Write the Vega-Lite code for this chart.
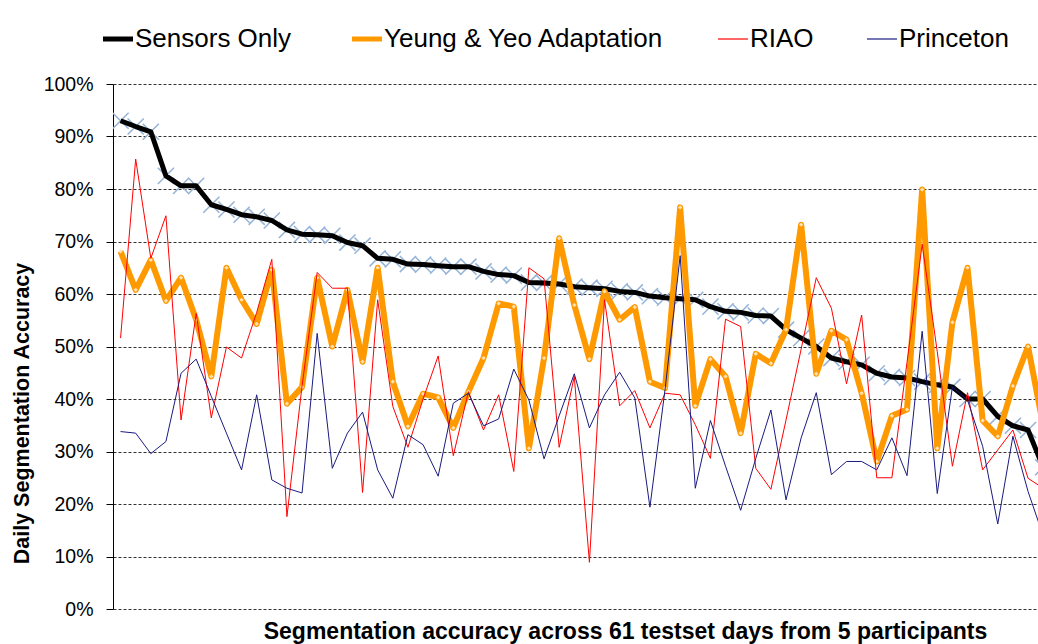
{
  "$schema": "https://vega.github.io/schema/vega-lite/v6.json",
  "width": 925,
  "height": 525,
  "autosize": {"type": "none"},
  "padding": {"left": 113, "top": 84, "right": 0, "bottom": 35},
  "background": "white",
  "config": {"view": {"stroke": null}, "font": "Liberation Sans"},
  "data": {"values": [
    {"day":0,"sensors":93.0,"yeung":68.1,"riao":51.6,"princeton":33.8},
    {"day":1,"sensors":91.9,"yeung":60.8,"riao":85.7,"princeton":33.5},
    {"day":2,"sensors":90.9,"yeung":66.5,"riao":66.8,"princeton":29.6},
    {"day":3,"sensors":82.5,"yeung":58.7,"riao":74.9,"princeton":31.9},
    {"day":4,"sensors":80.6,"yeung":63.1,"riao":36.0,"princeton":44.9},
    {"day":5,"sensors":80.6,"yeung":55.1,"riao":56.3,"princeton":47.6},
    {"day":6,"sensors":77.0,"yeung":44.3,"riao":36.4,"princeton":40.5},
    {"day":7,"sensors":76.1,"yeung":65.0,"riao":49.9,"princeton":33.5},
    {"day":8,"sensors":75.1,"yeung":58.9,"riao":47.8,"princeton":26.5},
    {"day":9,"sensors":74.7,"yeung":54.3,"riao":56.5,"princeton":40.8},
    {"day":10,"sensors":74.0,"yeung":64.6,"riao":66.6,"princeton":24.6},
    {"day":11,"sensors":72.2,"yeung":39.1,"riao":17.6,"princeton":23.0},
    {"day":12,"sensors":71.4,"yeung":42.3,"riao":42.5,"princeton":22.1},
    {"day":13,"sensors":71.3,"yeung":63.1,"riao":64.1,"princeton":52.5},
    {"day":14,"sensors":71.1,"yeung":50.0,"riao":61.1,"princeton":26.8},
    {"day":15,"sensors":69.8,"yeung":60.8,"riao":61.1,"princeton":33.5},
    {"day":16,"sensors":69.2,"yeung":47.1,"riao":22.2,"princeton":37.5},
    {"day":17,"sensors":66.8,"yeung":65.0,"riao":58.9,"princeton":26.5},
    {"day":18,"sensors":66.6,"yeung":43.3,"riao":38.6,"princeton":21.1},
    {"day":19,"sensors":65.7,"yeung":34.8,"riao":30.8,"princeton":33.2},
    {"day":20,"sensors":65.6,"yeung":41.0,"riao":40.0,"princeton":31.3},
    {"day":21,"sensors":65.4,"yeung":40.3,"riao":48.2,"princeton":25.3},
    {"day":22,"sensors":65.2,"yeung":34.5,"riao":29.2,"princeton":39.2},
    {"day":23,"sensors":65.2,"yeung":41.4,"riao":41.4,"princeton":41.1},
    {"day":24,"sensors":64.3,"yeung":47.8,"riao":34.1,"princeton":34.9},
    {"day":25,"sensors":63.7,"yeung":58.2,"riao":40.8,"princeton":36.2},
    {"day":26,"sensors":63.5,"yeung":57.6,"riao":26.2,"princeton":45.7},
    {"day":27,"sensors":62.2,"yeung":30.6,"riao":65.0,"princeton":39.8},
    {"day":28,"sensors":62.1,"yeung":47.8,"riao":62.9,"princeton":28.6},
    {"day":29,"sensors":61.9,"yeung":70.6,"riao":30.8,"princeton":36.8},
    {"day":30,"sensors":61.4,"yeung":57.9,"riao":44.3,"princeton":44.8},
    {"day":31,"sensors":61.2,"yeung":47.6,"riao":8.9,"princeton":34.5},
    {"day":32,"sensors":61.0,"yeung":60.5,"riao":58.9,"princeton":40.8},
    {"day":33,"sensors":60.5,"yeung":55.1,"riao":38.7,"princeton":45.1},
    {"day":34,"sensors":60.3,"yeung":57.5,"riao":41.6,"princeton":40.2},
    {"day":35,"sensors":59.6,"yeung":43.3,"riao":34.5,"princeton":19.4},
    {"day":36,"sensors":59.3,"yeung":42.1,"riao":41.1,"princeton":41.8},
    {"day":37,"sensors":59.1,"yeung":76.5,"riao":40.8,"princeton":67.3},
    {"day":38,"sensors":58.9,"yeung":38.7,"riao":35.1,"princeton":23.0},
    {"day":39,"sensors":57.6,"yeung":47.6,"riao":28.7,"princeton":35.9},
    {"day":40,"sensors":56.7,"yeung":44.3,"riao":55.2,"princeton":27.2},
    {"day":41,"sensors":56.5,"yeung":33.5,"riao":53.8,"princeton":18.8},
    {"day":42,"sensors":55.9,"yeung":48.6,"riao":26.8,"princeton":28.7},
    {"day":43,"sensors":55.8,"yeung":46.8,"riao":22.8,"princeton":37.9},
    {"day":44,"sensors":53.2,"yeung":53.2,"riao":36.0,"princeton":20.8},
    {"day":45,"sensors":51.6,"yeung":73.2,"riao":49.5,"princeton":32.6},
    {"day":46,"sensors":50.0,"yeung":44.8,"riao":63.1,"princeton":41.2},
    {"day":47,"sensors":47.8,"yeung":53.0,"riao":57.3,"princeton":25.6},
    {"day":48,"sensors":47.1,"yeung":51.3,"riao":42.9,"princeton":28.1},
    {"day":49,"sensors":46.5,"yeung":41.1,"riao":56.0,"princeton":28.1},
    {"day":50,"sensors":44.9,"yeung":28.1,"riao":25.0,"princeton":26.5},
    {"day":51,"sensors":44.2,"yeung":36.8,"riao":25.0,"princeton":32.6},
    {"day":52,"sensors":44.0,"yeung":38.0,"riao":47.0,"princeton":25.4},
    {"day":53,"sensors":43.3,"yeung":79.9,"riao":69.5,"princeton":52.9},
    {"day":54,"sensors":42.7,"yeung":30.6,"riao":49.0,"princeton":22.0},
    {"day":55,"sensors":42.3,"yeung":54.6,"riao":27.2,"princeton":42.3},
    {"day":56,"sensors":40.0,"yeung":65.0,"riao":41.2,"princeton":39.8},
    {"day":57,"sensors":40.0,"yeung":35.9,"riao":26.5,"princeton":31.0},
    {"day":58,"sensors":36.7,"yeung":32.9,"riao":30.3,"princeton":16.2},
    {"day":59,"sensors":34.9,"yeung":42.5,"riao":34.1,"princeton":32.9},
    {"day":60,"sensors":34.1,"yeung":50.0,"riao":24.9,"princeton":22.4},
    {"day":61,"sensors":27.0,"yeung":35.0,"riao":23.0,"princeton":14.0}
  ]},
  "encoding": {
    "x": {
      "field": "day", "type": "quantitative",
      "scale": {"domain": [-0.5, 60.66], "nice": false, "zero": false},
      "axis": {
        "title": "Segmentation accuracy across 61 testset days from 5 participants",
        "labels": false, "ticks": false, "domain": false, "grid": false,
        "titleFontSize": 23, "titleFontWeight": "bold", "titleColor": "#000000",
        "titleX": 512, "titleY": 29, "titleAlign": "center", "titleBaseline": "alphabetic"
      }
    }
  },
  "layer": [
    {
      "mark": {"type": "point", "shape": "M-1,-1L1,1M-1,1L1,-1", "filled": false, "stroke": "#95B3D7", "strokeWidth": 1.5, "size": 260, "opacity": 1, "clip": true},
      "encoding": {
        "y": {
          "field": "sensors", "type": "quantitative",
          "scale": {"domain": [0, 100], "nice": false, "zero": true},
          "title": "Daily Segmentation Accuracy",
          "axis": {
            "values": [0, 10, 20, 30, 40, 50, 60, 70, 80, 90, 100],
            "labelExpr": "datum.value + '%'",
            "labelFontSize": 19.5, "labelColor": "#000000", "labelPadding": 13,
            "tickSize": 7, "tickColor": "#000000", "domainColor": "#000000", "domainWidth": 1,
            "grid": true, "gridColor": "#333333", "gridDash": [3, 2], "gridWidth": 1,
            "titleFontSize": 21.5, "titleFontWeight": "bold", "titleColor": "#000000",
            "titleX": -91, "titleY": 329, "titleAngle": -90, "titleAlign": "center", "titleBaseline": "middle"
          }
        }
      }
    },
    {
      "mark": {"type": "line", "clip": true, "strokeJoin": "round", "strokeWidth": 5},
      "encoding": {
        "y": {"field": "sensors", "type": "quantitative", "scale": {"domain": [0, 100], "nice": false}, "title": "Daily Segmentation Accuracy"},
        "color": {
          "datum": "Sensors Only", "type": "nominal",
          "scale": {"domain": ["Sensors Only", "Yeung & Yeo Adaptation", "RIAO", "Princeton"], "range": ["#000000", "#FF9900", "#FF0000", "#1A1A80"]},
          "legend": {
            "orient": "none", "legendX": -8, "legendY": -58, "direction": "horizontal",
            "title": null, "labelFontSize": 26, "labelColor": "#000000", "labelLimit": 500,
            "symbolType": "stroke", "symbolSize": 900, "labelOffset": 4, "columnPadding": 50,
            "encode": {"symbols": {"update": {"strokeWidth": {"signal": "datum.value === 'RIAO' || datum.value === 'Princeton' ? 1.2 : 5"}}}}
          }
        }
      }
    },
    {
      "mark": {"type": "line", "clip": true, "strokeJoin": "round", "strokeWidth": 6},
      "encoding": {
        "y": {"field": "yeung", "type": "quantitative", "scale": {"domain": [0, 100], "nice": false}, "title": "Daily Segmentation Accuracy"},
        "color": {"datum": "Yeung & Yeo Adaptation", "type": "nominal"}
      }
    },
    {
      "mark": {"type": "point", "shape": "diamond", "filled": true, "fill": "#FFE2B0", "strokeWidth": 0, "size": 18, "opacity": 1, "clip": true},
      "encoding": {
        "y": {"field": "yeung", "type": "quantitative", "scale": {"domain": [0, 100], "nice": false}, "title": "Daily Segmentation Accuracy"}
      }
    },
    {
      "mark": {"type": "line", "clip": true, "strokeWidth": 1},
      "encoding": {
        "y": {"field": "riao", "type": "quantitative", "scale": {"domain": [0, 100], "nice": false}, "title": "Daily Segmentation Accuracy"},
        "color": {"datum": "RIAO", "type": "nominal"}
      }
    },
    {
      "mark": {"type": "line", "clip": true, "strokeWidth": 1},
      "encoding": {
        "y": {"field": "princeton", "type": "quantitative", "scale": {"domain": [0, 100], "nice": false}, "title": "Daily Segmentation Accuracy"},
        "color": {"datum": "Princeton", "type": "nominal"}
      }
    }
  ]
}
